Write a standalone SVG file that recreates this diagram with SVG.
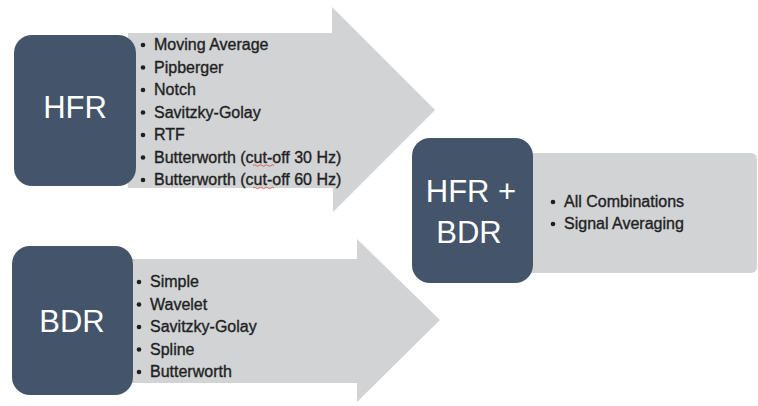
<svg xmlns="http://www.w3.org/2000/svg" width="758" height="406" viewBox="0 0 758 406">
  <style>
    .box { fill: #44546a; }
    .band { fill: #d1d3d5; }
    .title { font-family: "Liberation Sans", Arial, sans-serif; font-size: 31px; fill: #ffffff; text-anchor: middle; }
    .item { font-family: "Liberation Sans", Arial, sans-serif; font-size: 16px; fill: #1f1f1f; stroke: #1f1f1f; stroke-width: 0.35; }
    .dot { fill: #1f1f1f; }
    .squig { fill: none; stroke: #e05050; stroke-width: 0.9; }
  </style>
  <rect width="758" height="406" fill="#ffffff"/>

  <g id="connectors">
    <polygon class="band" points="128,33 332,33 332,7 435,110 333,212 333,188 128,188"/>
    <polygon class="band" points="126,259 357,259 357,239 440,320 357,402 357,383 126,383"/>
  </g>

  <g id="hfr">
    <rect class="box" x="14" y="35" width="122" height="151" rx="18"/>
    <text class="title" x="75" y="118">HFR</text>
    <g>
      <circle class="dot" cx="143" cy="45" r="2.3"/>
      <circle class="dot" cx="143" cy="67.5" r="2.3"/>
      <circle class="dot" cx="143" cy="90" r="2.3"/>
      <circle class="dot" cx="143" cy="112.5" r="2.3"/>
      <circle class="dot" cx="143" cy="135" r="2.3"/>
      <circle class="dot" cx="143" cy="157.5" r="2.3"/>
      <circle class="dot" cx="143" cy="180" r="2.3"/>
      <text class="item" x="154" y="50">Moving Average</text>
      <text class="item" x="154" y="72.5">Pipberger</text>
      <text class="item" x="154" y="95">Notch</text>
      <text class="item" x="154" y="117.5">Savitzky-Golay</text>
      <text class="item" x="154" y="140">RTF</text>
      <text class="item" x="154" y="162.5">Butterworth (cut-off 30 Hz)</text>
      <text class="item" x="154" y="185">Butterworth (cut-off 60 Hz)</text>
      <path class="squig" d="M253,165.5 q1.5,-1.5 3,0 t3,0 t3,0 t3,0 t3,0 t3,0 t3,0"/>
      <path class="squig" d="M253,188 q1.5,-1.5 3,0 t3,0 t3,0 t3,0 t3,0 t3,0 t3,0"/>
    </g>
  </g>

  <g id="bdr">
    <rect class="box" x="12" y="246" width="121" height="149" rx="18"/>
    <text class="title" x="72" y="332">BDR</text>
    <g>
      <circle class="dot" cx="139" cy="282" r="2.3"/>
      <circle class="dot" cx="139" cy="304.5" r="2.3"/>
      <circle class="dot" cx="139" cy="327" r="2.3"/>
      <circle class="dot" cx="139" cy="349.5" r="2.3"/>
      <circle class="dot" cx="139" cy="372" r="2.3"/>
      <text class="item" x="150" y="287">Simple</text>
      <text class="item" x="150" y="309.5">Wavelet</text>
      <text class="item" x="150" y="332">Savitzky-Golay</text>
      <text class="item" x="150" y="354.5">Spline</text>
      <text class="item" x="150" y="377">Butterworth</text>
    </g>
  </g>

  <g id="hfr-bdr">
    <rect class="band" x="520" y="153" width="237" height="120" rx="6"/>
    <rect class="box" x="412" y="138" width="121" height="145" rx="18"/>
    <text class="title" x="471" y="202">HFR +</text>
    <text class="title" x="469" y="243">BDR</text>
    <circle class="dot" cx="553" cy="202" r="2.3"/>
    <circle class="dot" cx="553" cy="224" r="2.3"/>
    <text class="item" x="564" y="207">All Combinations</text>
    <text class="item" x="564" y="229">Signal Averaging</text>
  </g>
</svg>
